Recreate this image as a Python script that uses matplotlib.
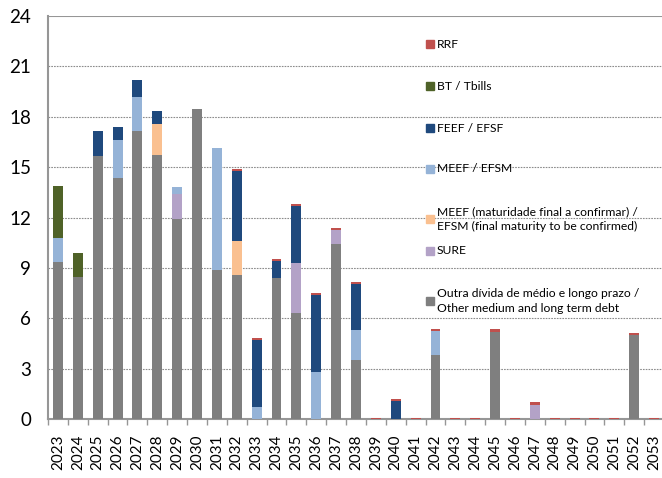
import matplotlib
matplotlib.use("Agg")
import matplotlib.pyplot as plt
import numpy as np

plt.rcParams["font.family"] = ["Lato", "DejaVu Sans"]

years = [str(y) for y in range(2023, 2054)]

# values in EUR bn
outra = [9.35, 8.45, 15.65, 14.35, 17.15, 15.75, 11.9, 18.45, 8.9, 8.6,
         0, 8.4, 6.3, 0, 10.45, 3.5, 0, 0, 0, 3.8,
         0, 0, 5.2, 0, 0, 0, 0, 0, 0, 5.0, 0]
sure = [0, 0, 0, 0, 0, 0, 1.5, 0, 0, 0,
        0, 0, 3.0, 0, 0.8, 0, 0, 0, 0, 0,
        0, 0, 0, 0, 0.85, 0, 0, 0, 0, 0, 0]
meef_conf = [0, 0, 0, 0, 0, 1.8, 0, 0, 0, 2.0,
             0, 0, 0, 0, 0, 0, 0, 0, 0, 0,
             0, 0, 0, 0, 0, 0, 0, 0, 0, 0, 0]
meef = [1.45, 0, 0, 2.25, 2.05, 0, 0.4, 0, 7.25, 0,
        0.7, 0, 0, 2.8, 0, 1.8, 0, 0, 0, 1.45,
        0, 0, 0, 0, 0, 0, 0, 0, 0, 0, 0]
feef = [0, 0, 1.5, 0.8, 1.0, 0.8, 0, 0, 0, 4.15,
        4.0, 1.0, 3.4, 4.6, 0, 2.75, 0, 1.05, 0, 0,
        0, 0, 0, 0, 0, 0, 0, 0, 0, 0, 0]
bt = [3.05, 1.45, 0, 0, 0, 0, 0, 0, 0, 0,
      0, 0, 0, 0, 0, 0, 0, 0, 0, 0,
      0, 0, 0, 0, 0, 0, 0, 0, 0, 0, 0]
rrf = [0, 0, 0, 0, 0, 0, 0, 0, 0, 0.13,
       0.13, 0.12, 0.12, 0.12, 0.13, 0.12, 0.06, 0.13, 0.06, 0.12,
       0.06, 0.06, 0.15, 0.06, 0.15, 0.06, 0.06, 0.06, 0.06, 0.15, 0.06]

series = [
    (outra, "#7F7F7F", "Outra dívida de médio e longo prazo /\nOther medium and long term debt"),
    (sure, "#B3A2C7", "SURE"),
    (meef_conf, "#FAC090", "MEEF (maturidade final a confirmar) /\nEFSM (final maturity to be confirmed)"),
    (meef, "#95B3D7", "MEEF / EFSM"),
    (feef, "#1F497D", "FEEF / EFSF"),
    (bt, "#4F6228", "BT / Tbills"),
    (rrf, "#C0504D", "RRF"),
]

fig = plt.figure(figsize=(6.62, 4.78), dpi=100)
ax = fig.add_axes([0.0725, 0.1234, 0.9305, 0.8431])

x = np.arange(len(years))
bottom = np.zeros(len(years))
for vals, col, lab in series:
    vals = np.array(vals)
    ax.bar(x, vals, 0.5, bottom=bottom, color=col, edgecolor="none", zorder=3)
    bottom += vals

ax.set_xlim(-0.5, len(years) - 0.5)
ax.set_ylim(0, 24)
ax.set_yticks(range(0, 25, 3))
ax.tick_params(axis="y", labelsize=13.5, length=0, pad=12, colors="black")
ax.set_xticks(x)
ax.set_xticklabels(years, rotation=90, fontsize=11)
ax.set_xticks(np.arange(-0.5, len(years), 1), minor=True)
ax.tick_params(axis="x", which="major", length=0, pad=11)
ax.tick_params(axis="x", which="minor", length=4, color="#969696", width=1)

for v in range(3, 24, 3):
    ax.axhline(v, color="#8c8c8c", lw=0.8, ls=(0, (1.5, 1)), zorder=1)
ax.axhline(24, color="#969696", lw=1.5, zorder=1)

for s in ["top", "right"]:
    ax.spines[s].set_visible(False)
for s in ["left", "bottom"]:
    ax.spines[s].set_color("#969696")
    ax.spines[s].set_linewidth(1.5)

# legend, placed like the original (irregular spacing)
leg_y = [44, 86, 128, 169, 219, 251, 301]
for (vals, col, lab), yp in zip(reversed(series), leg_y):
    fy = 1 - yp / 478
    fig.patches.append(plt.Rectangle((426 / 662, fy - 4 / 478), 8 / 662, 8 / 478,
                                     transform=fig.transFigure, color=col, figure=fig))
    fig.text(437 / 662, fy, lab, fontsize=8.7, va="center", ha="left",
             linespacing=1.4)

fig.savefig("out.png", dpi=100)
